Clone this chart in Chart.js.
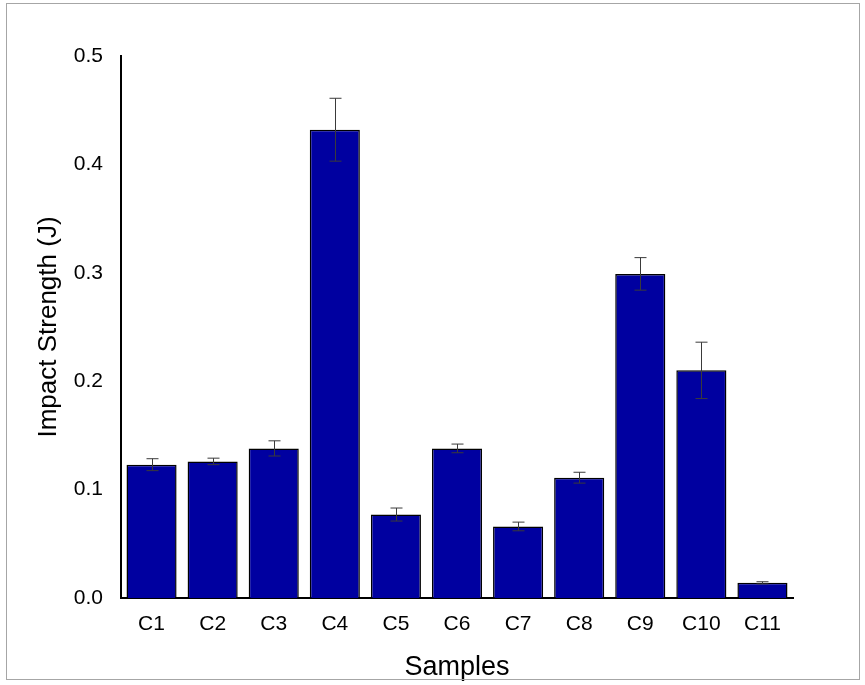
<!DOCTYPE html>
<html>
<head>
<meta charset="utf-8">
<script src="https://cdn.jsdelivr.net/npm/chart.js@4/dist/chart.umd.min.js"></script>
<style>
  body { margin: 0; background: #fff; }
  #wrap { position: relative; width: 865px; height: 685px; }
  #frame { position: absolute; left: 6px; top: 3px; width: 852px; height: 675px; border: 1px solid #a6a6a6; pointer-events: none; }
</style>
</head>
<body>
<div id="wrap">
  <canvas id="chart" width="865" height="685"></canvas>
  <div id="frame"></div>
</div>
<script>
// data
const samples = ['C1', 'C2', 'C3', 'C4', 'C5', 'C6', 'C7', 'C8', 'C9', 'C10', 'C11'];
const impactStrength = [0.123, 0.126, 0.138, 0.432, 0.077, 0.138, 0.066, 0.111, 0.299, 0.210, 0.014];
const errors = [0.0055, 0.003, 0.007, 0.029, 0.006, 0.004, 0.004, 0.005, 0.015, 0.026, 0.001];
const yTicks = [0.0, 0.1, 0.2, 0.3, 0.4, 0.5];

const fontFamily = '"Liberation Sans", Arial, sans-serif';

// draws the error bars with the chart's own scales
const errorBarPlugin = {
  id: 'errorBars',
  afterDatasetsDraw(chart) {
    const ctx = chart.ctx;
    const meta = chart.getDatasetMeta(0);
    const yScale = chart.scales.y;
    ctx.save();
    ctx.strokeStyle = '#3a3a3a';
    ctx.lineWidth = 1;
    meta.data.forEach((bar, i) => {
      const x = Math.round(bar.x) + 0.5;
      const top = yScale.getPixelForValue(impactStrength[i] + errors[i]);
      const bottom = yScale.getPixelForValue(impactStrength[i] - errors[i]);
      const cap = 6;
      ctx.beginPath();
      ctx.moveTo(x, top);
      ctx.lineTo(x, bottom);
      ctx.moveTo(x - cap, top);
      ctx.lineTo(x + cap, top);
      ctx.moveTo(x - cap, bottom);
      ctx.lineTo(x + cap, bottom);
      ctx.stroke();
    });
    ctx.restore();
  }
};

const ctx = document.getElementById('chart').getContext('2d');
new Chart(ctx, {
  type: 'bar',
  data: {
    labels: samples,
    datasets: [{
      label: 'Impact Strength',
      data: impactStrength,
      backgroundColor: '#0000a0',
      borderColor: '#000000',
      borderWidth: 1.5,
      barPercentage: 0.82,
      categoryPercentage: 1.0
    }]
  },
  options: {
    responsive: false,
    animation: false,
    layout: { padding: { top: 56, right: 72, left: 0, bottom: 0 } },
    plugins: {
      legend: { display: false },
      tooltip: { enabled: false }
    },
    scales: {
      x: {
        offset: true,
        grid: { display: false, drawTicks: false },
        border: { display: true, color: '#000', width: 2 },
        ticks: { color: '#000', padding: 14, font: { family: fontFamily, size: 21 } },
        title: { display: true, text: 'Samples', color: '#000', padding: { top: 0, bottom: 1 }, font: { family: fontFamily, size: 27 } },
        afterFit(scale) { scale.height = 87; }
      },
      y: {
        min: 0,
        max: 0.5,
        afterBuildTicks(scale) { scale.ticks = yTicks.map(v => ({ value: v })); },
        grid: { display: false, drawTicks: false },
        border: { display: true, color: '#000', width: 2 },
        ticks: {
          color: '#000',
          padding: 18,
          font: { family: fontFamily, size: 21 },
          callback: v => Number(v).toFixed(1)
        },
        title: { display: true, text: 'Impact Strength (J)', color: '#000', padding: { top: 33, bottom: 0 }, font: { family: fontFamily, size: 26 } },
        afterFit(scale) { scale.width = 121; }
      }
    }
  },
  plugins: [errorBarPlugin]
});
</script>
</body>
</html>
